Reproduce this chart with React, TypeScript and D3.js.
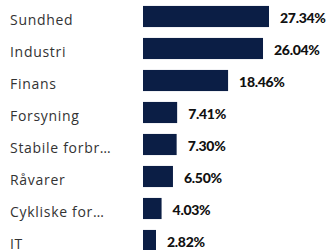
import React, { useEffect, useRef } from "react";
import * as d3 from "d3";

const sectors = [
  "Sundhed",
  "Industri",
  "Finans",
  "Forsyning",
  "Stabile forbr…",
  "Råvarer",
  "Cykliske for…",
  "IT",
];
const weights = [27.34, 26.04, 18.46, 7.41, 7.3, 6.5, 4.03, 2.82];

export default function App() {
  const ref = useRef<SVGSVGElement | null>(null);

  useEffect(() => {
    const width = 327;
    const height = 250;
    const barLeft = 143;

    d3.select(ref.current).selectAll("*").remove();

    const svg = d3
      .select(ref.current)
      .attr("width", width)
      .attr("height", height);

    const y = d3
      .scaleBand()
      .domain(sectors)
      .range([0.5, 256.5])
      .paddingInner(0.34)
      .paddingOuter(0.17);

    const x = d3
      .scaleLinear()
      .domain([0, d3.max(weights) ?? 0])
      .range([0, 126]);

    const rows = sectors.map((s, i) => ({ name: s, value: weights[i] }));

    // Category labels
    svg
      .selectAll(".label")
      .data(rows)
      .enter()
      .append("text")
      .attr("class", "label")
      .attr("x", 10)
      .attr("y", (d) => (y(d.name) ?? 0) + y.bandwidth() / 2 + 8.6)
      .style("font-family", "'Open Sans', sans-serif")
      .style("font-size", "14px")
      .style("letter-spacing", "0.7px")
      .attr("fill", "#333")
      .text((d) => d.name);

    // Bars
    svg
      .selectAll(".bar")
      .data(rows)
      .enter()
      .append("rect")
      .attr("class", "bar")
      .attr("x", barLeft)
      .attr("y", (d) => y(d.name) ?? 0)
      .attr("width", (d) => x(d.value))
      .attr("height", y.bandwidth())
      .attr("fill", "#0b1e45");

    // Value labels
    svg
      .selectAll(".value")
      .data(rows)
      .enter()
      .append("text")
      .attr("class", "value")
      .attr("x", (d) => barLeft + x(d.value) + 11)
      .attr("y", (d) => (y(d.name) ?? 0) + y.bandwidth() / 2 + 6.3)
      .style("font-family", "Lato, sans-serif")
      .style("font-size", "14px")
      .style("font-weight", "900")
      .style("letter-spacing", "-0.3px")
      .attr("fill", "#111")
      .text((d) => d.value.toFixed(2) + "%");
  }, []);

  return (
    <svg
      ref={ref}
      style={{ position: "absolute", left: 0, top: 0, display: "block" }}
    ></svg>
  );
}
